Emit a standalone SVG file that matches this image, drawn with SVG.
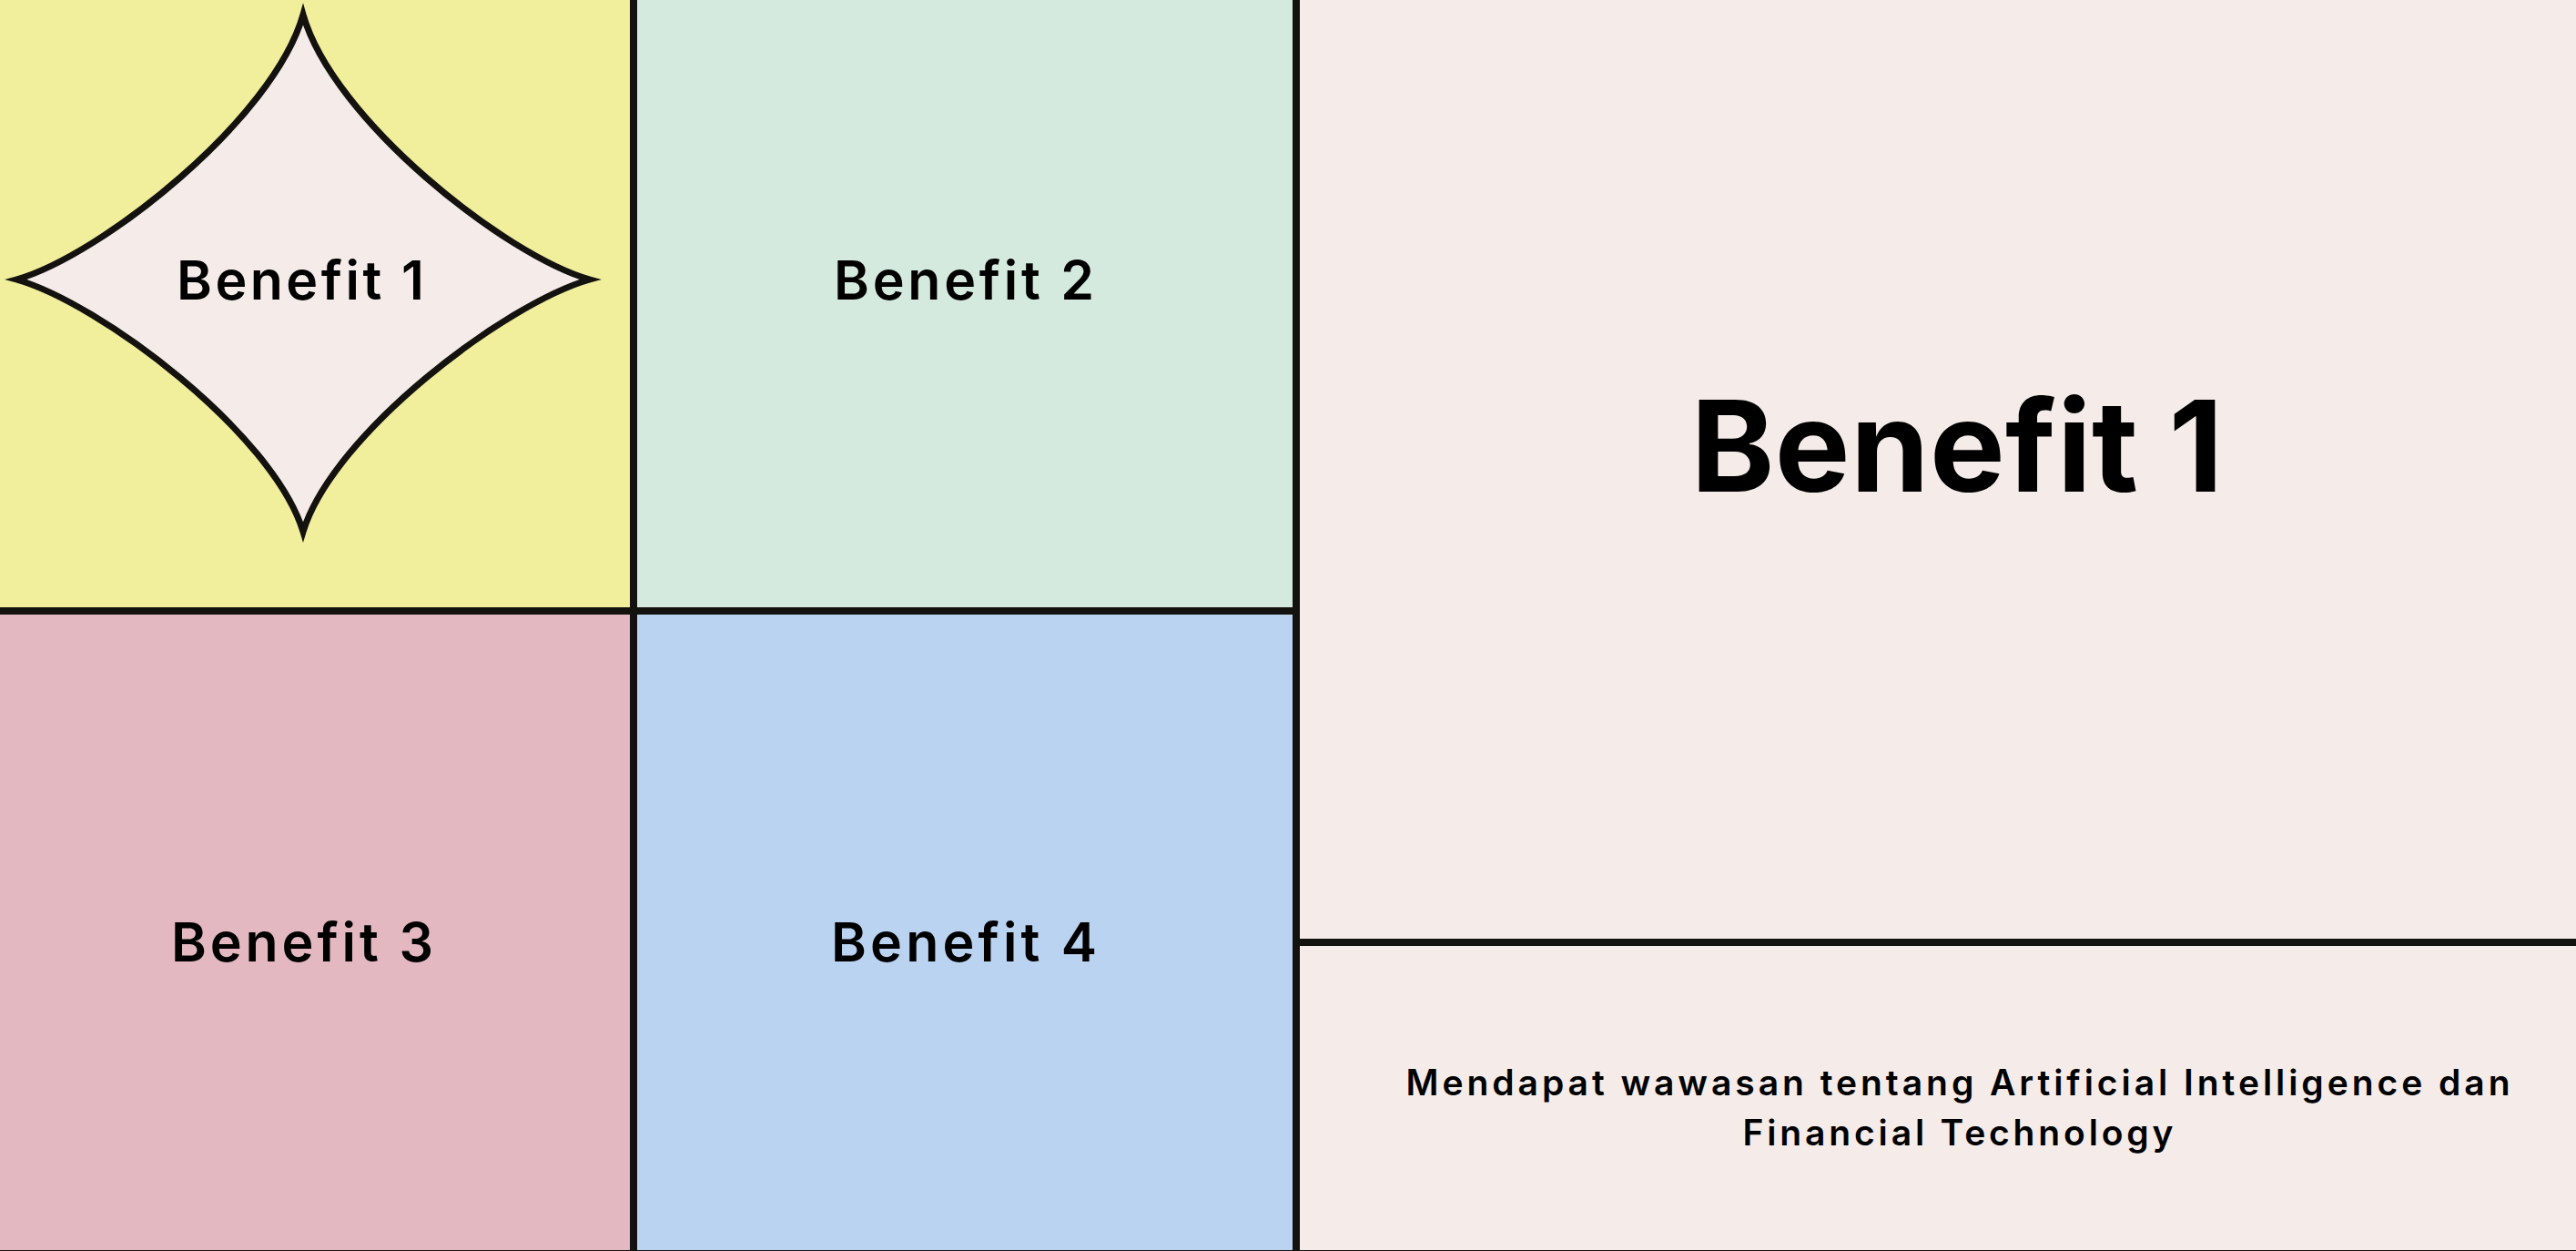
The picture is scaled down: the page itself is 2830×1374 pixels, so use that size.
<svg xmlns="http://www.w3.org/2000/svg" width="2830" height="1374" viewBox="0 0 2830 1374">
  <style>
    .lbl { font-family: Inter, "Open Sans", "DejaVu Sans", sans-serif; font-weight: 600; fill: #000000; text-anchor: middle; }
    .sm { font-size: 59px; }
    .big { font-size: 139px; font-weight: 700; }
    .sub { font-family: Inter, "Open Sans", "DejaVu Sans", sans-serif; font-weight: 600; font-size: 39px; fill: #000000; text-anchor: middle; }
    .ln { fill: #14120F; }
  </style>
  <g id="cell-benefit-1">
    <rect x="0" y="0" width="696" height="671" fill="#F1EE9C"/>
    <path d="M 333 16 C 366 132, 556 281, 648 307 C 556 333, 366 476, 333 584 C 300 476, 110 333, 18 307 C 110 281, 300 132, 333 16 Z" fill="#F5ECE9" stroke="#14120F" stroke-width="7" stroke-linejoin="miter" stroke-miterlimit="20"/>
    <text class="lbl sm" x="330" y="329" textLength="272" lengthAdjust="spacing">Benefit 1</text>
  </g>
  <g id="cell-benefit-2">
    <rect x="696" y="0" width="728" height="671" fill="#D5EADE"/>
    <text class="lbl sm" x="1059" y="329" textLength="286" lengthAdjust="spacing">Benefit 2</text>
  </g>
  <g id="cell-benefit-3">
    <rect x="0" y="671" width="696" height="703" fill="#E3B8C0"/>
    <text class="lbl sm" x="332" y="1056" textLength="288" lengthAdjust="spacing">Benefit 3</text>
  </g>
  <g id="cell-benefit-4">
    <rect x="696" y="671" width="728" height="703" fill="#BAD3F1"/>
    <text class="lbl sm" x="1059" y="1056" textLength="292" lengthAdjust="spacing">Benefit 4</text>
  </g>
  <g id="panel-title">
    <rect x="1424" y="0" width="1406" height="1035" fill="#F5ECE9"/>
    <text class="lbl big" x="2150" y="540" textLength="585" lengthAdjust="spacing">Benefit 1</text>
  </g>
  <g id="panel-description">
    <rect x="1424" y="1035" width="1406" height="339" fill="#F5ECE9"/>
    <text class="sub" x="2151" y="1203" textLength="1213" lengthAdjust="spacing">Mendapat wawasan tentang Artificial Intelligence dan</text>
    <text class="sub" x="2151" y="1258" textLength="473" lengthAdjust="spacing">Financial Technology</text>
  </g>
  <g id="dividers">
    <rect class="ln" x="692" y="0" width="8" height="1374"/>
    <rect class="ln" x="1420" y="0" width="8" height="1374"/>
    <rect class="ln" x="0" y="667" width="1420" height="8"/>
    <rect class="ln" x="1428" y="1031" width="1402" height="8"/>
    <rect class="ln" x="0" y="1373" width="2830" height="1"/>
  </g>
</svg>
